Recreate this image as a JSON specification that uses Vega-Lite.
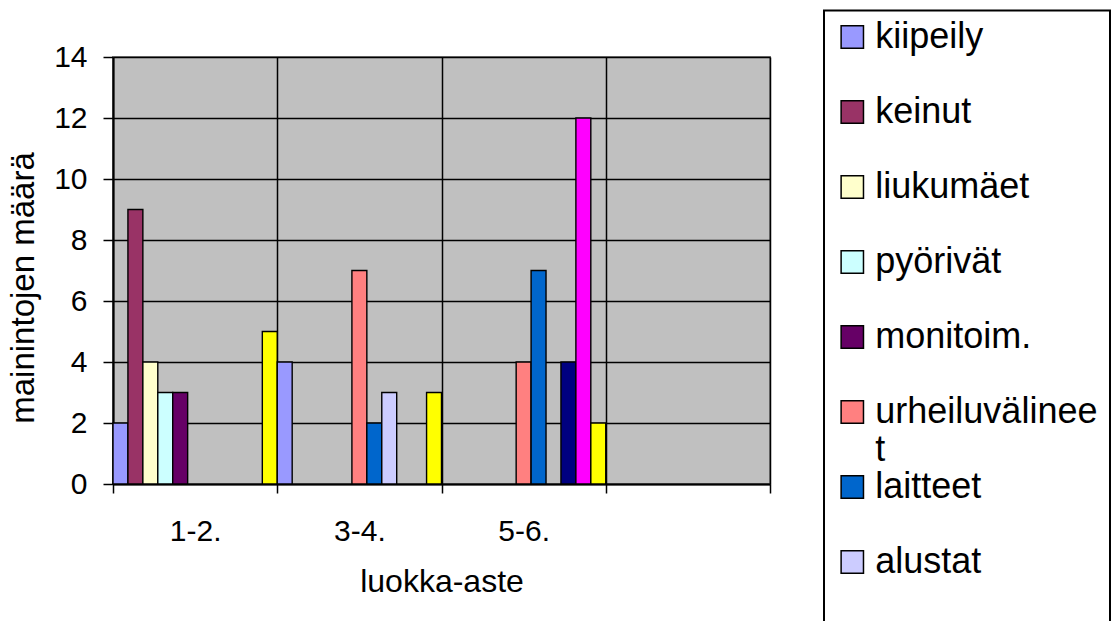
{
  "$schema": "https://vega.github.io/schema/vega-lite/v6.json",
  "width": 657,
  "height": 427,
  "autosize": {"type": "none"},
  "padding": {"left": 113, "top": 57, "right": 343, "bottom": 137},
  "background": "white",
  "config": {
    "font": "Liberation Sans",
    "view": {"fill": "#C0C0C0", "stroke": "#808080", "strokeWidth": 2},
    "legend": {"strokeWidth": 2}
  },
  "data": {
    "values": [
      {"luokka": "1-2.", "kohde": "kiipeily", "maara": 2},
      {"luokka": "1-2.", "kohde": "keinut", "maara": 9},
      {"luokka": "1-2.", "kohde": "liukumäet", "maara": 4},
      {"luokka": "1-2.", "kohde": "pyörivät", "maara": 3},
      {"luokka": "1-2.", "kohde": "monitoim.", "maara": 3},
      {"luokka": "1-2.", "kohde": "muut", "maara": 5},
      {"luokka": "3-4.", "kohde": "kiipeily", "maara": 4},
      {"luokka": "3-4.", "kohde": "urheiluvälineet", "maara": 7},
      {"luokka": "3-4.", "kohde": "laitteet", "maara": 2},
      {"luokka": "3-4.", "kohde": "alustat", "maara": 3},
      {"luokka": "3-4.", "kohde": "muut", "maara": 3},
      {"luokka": "5-6.", "kohde": "urheiluvälineet", "maara": 4},
      {"luokka": "5-6.", "kohde": "laitteet", "maara": 7},
      {"luokka": "5-6.", "kohde": "leikkimökki", "maara": 4},
      {"luokka": "5-6.", "kohde": "hiekkalaatikko", "maara": 12},
      {"luokka": "5-6.", "kohde": "muut", "maara": 2}
    ]
  },
  "mark": {"type": "bar", "stroke": "black", "strokeWidth": 1.4},
  "encoding": {
    "x": {
      "field": "luokka",
      "type": "nominal",
      "scale": {"domain": ["1-2.", "3-4.", "5-6.", " "], "paddingInner": 0, "paddingOuter": 0},
      "axis": {
        "title": "luokka-aste",
        "tickBand": "extent",
        "grid": true,
        "gridColor": "black",
        "gridWidth": 1.5,
        "domainColor": "black",
        "domainWidth": 2,
        "tickColor": "black",
        "tickWidth": 1.5,
        "tickSize": 9,
        "labelAngle": 0,
        "labelFontSize": 30,
        "labelColor": "black",
        "labelBaseline": "alphabetic",
        "labelPadding": 47,
        "titleFontSize": 32,
        "titleFontWeight": "normal",
        "titleColor": "black",
        "titleBaseline": "alphabetic",
        "titleY": 107.5,
        "titleX": 328.5
      }
    },
    "xOffset": {
      "field": "kohde",
      "type": "nominal",
      "scale": {
        "domain": ["kiipeily", "keinut", "liukumäet", "pyörivät", "monitoim.", "urheiluvälineet", "laitteet", "alustat", "leikkimökki", "hiekkalaatikko", "muut"],
        "paddingInner": 0,
        "paddingOuter": 0
      }
    },
    "y": {
      "field": "maara",
      "type": "quantitative",
      "scale": {"domain": [0, 14], "nice": false},
      "axis": {
        "title": "mainintojen määrä",
        "values": [0, 2, 4, 6, 8, 10, 12, 14],
        "grid": true,
        "gridColor": "black",
        "gridWidth": 1.5,
        "domainColor": "black",
        "domainWidth": 2,
        "tickColor": "black",
        "tickWidth": 1.5,
        "tickSize": 10,
        "labelFontSize": 30,
        "labelPadding": 16,
        "labelColor": "black",
        "titleFontSize": 33,
        "titleFontWeight": "normal",
        "titleColor": "black",
        "titleAngle": -90,
        "titleBaseline": "alphabetic",
        "titleAlign": "center",
        "titleX": -80,
        "titleY": 230.5
      }
    },
    "color": {
      "field": "kohde",
      "type": "nominal",
      "scale": {
        "domain": ["kiipeily", "keinut", "liukumäet", "pyörivät", "monitoim.", "urheiluvälineet", "laitteet", "alustat", "leikkimökki", "hiekkalaatikko", "muut"],
        "range": ["#9999FF", "#993366", "#FFFFCC", "#CCFFFF", "#660066", "#FF8080", "#0066CC", "#CCCCFF", "#000080", "#FF00FF", "#FFFF00"]
      },
      "legend": {
        "orient": "none",
        "legendX": 711,
        "legendY": -46.5,
        "title": null,
        "padding": 8.5,
        "strokeColor": "black",
        "symbolType": "square",
        "symbolSize": 500,
        "symbolStrokeColor": "black",
        "symbolStrokeWidth": 1.5,
        "symbolOpacity": 1,
        "symbolOffset": 1.8,
        "labelFontSize": 36,
        "labelColor": "black",
        "labelOffset": 5,
        "labelLimit": 400,
        "gridAlign": "all",
        "rowPadding": 1,
        "clipHeight": 36,
        "labelExpr": "datum.label === 'urheiluvälineet' ? ['urheiluvälinee', 't'] : datum.label"
      }
    }
  }
}
